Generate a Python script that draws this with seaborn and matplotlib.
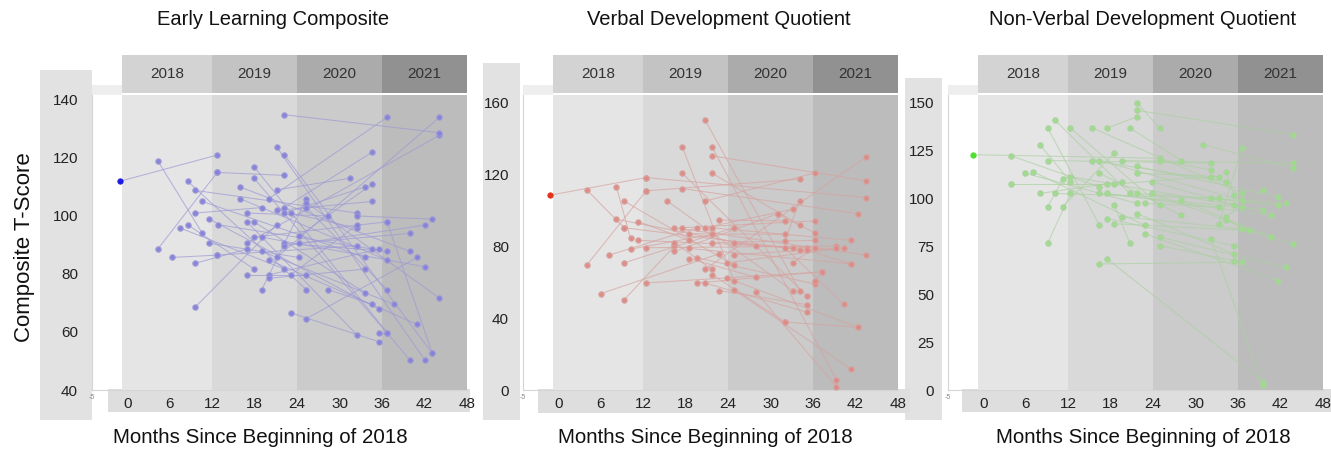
import matplotlib.pyplot as plt
import matplotlib.transforms as mtransforms
import pandas as pd
import seaborn as sns
from matplotlib.patches import Rectangle

# panel text
titles = ["Early Learning Composite", "Verbal Development Quotient",
          "Non-Verbal Development Quotient"]
x_label = "Months Since Beginning of 2018"
y_label = "Composite T-Score"
years = ["2018", "2019", "2020", "2021"]
year_starts = [-0.7, 12, 24, 36]
year_ends = [12, 24, 36, 48]
x_ticks = [0, 6, 12, 18, 24, 30, 36, 42, 48]

# longitudinal pairs: (month_1, score_1, month_2, score_2)
elc_segments = [
    (-1.0, 112, 12.7, 121), (4.3, 119, 10.6, 94), (4.3, 88.6, 12.7, 115),
    (6.3, 85.7, 12.7, 86.5), (9.6, 68.6, 21.1, 97), (7.5, 95.8, 22.2, 81.7),
    (8.5, 97, 17.9, 81.7), (8.5, 112, 25.3, 74.6), (9.6, 108.8, 32.5, 101),
    (9.6, 101, 19.0, 102.9), (9.6, 83.7, 16.9, 88.6), (10.6, 105, 33.6, 85.7),
    (11.6, 98.9, 35.6, 67.8), (11.6, 90.6, 24.2, 85.7), (12.7, 115, 22.2, 114),
    (12.8, 97, 34.6, 88.6), (12.7, 86.5, 32.5, 89.7), (15.9, 110, 39.9, 87.8),
    (15.9, 106, 36.7, 84.8), (16.9, 101, 28.4, 100), (16.9, 98, 32.5, 58.9),
    (16.9, 90.6, 44.1, 127.8), (16.9, 79.7, 25.3, 79.7), (17.9, 117, 36.7, 59.8),
    (17.9, 113, 39.9, 50.5), (17.9, 98, 33.6, 73.5), (17.9, 92.7, 36.7, 98),
    (19.0, 92.7, 42.0, 82.5), (19.0, 87.8, 37.7, 69.5), (19.0, 74.6, 25.3, 106),
    (20.0, 106, 36.7, 134), (20.0, 84.8, 41.0, 62.6), (20.0, 79.7, 35.6, 88.6),
    (20.0, 78.5, 33.6, 81.7), (21.1, 123.8, 42.0, 50.5), (21.1, 109, 31.5, 113),
    (21.1, 101.9, 34.6, 105), (21.1, 85.7, 44.1, 134), (22.2, 134.9, 44.1, 128.7),
    (22.2, 121, 43.1, 52.6), (22.2, 102.9, 34.6, 122), (22.2, 101, 33.6, 110),
    (22.2, 90.6, 36.7, 87.8), (22.2, 89.7, 42.0, 96.8), (23.1, 101, 32.5, 95.8),
    (23.1, 79.7, 32.5, 97), (23.1, 66.6, 35.6, 56.6), (24.2, 93, 34.6, 111),
    (24.2, 90.6, 39.9, 94), (25.3, 104.6, 44.1, 71.7), (25.3, 102.9, 36.7, 74.6),
    (25.3, 64.6, 41.0, 85.7), (28.4, 74.6, 34.6, 69.5), (32.5, 100, 43.1, 98.9),
    (36.7, 59.8, 35.6, 59.8), (36.7, 98, 43.1, 52.6),
]

vdq_segments = [
    (-1.2, 108.3, 12.4, 118.1), (4.0, 111.3, 9.3, 90.2), (4.0, 69.4, 12.4, 110.7),
    (6.0, 53.6, 22.7, 75.7), (7.2, 75, 19.6, 90.2), (8.2, 113, 10.2, 84.3),
    (8.2, 94.9, 27.9, 80), (9.3, 105, 24.8, 69.4), (9.3, 90.2, 34.1, 78.1),
    (9.3, 70.7, 24.8, 90.2), (9.3, 50.2, 16.4, 80), (10.2, 78.3, 21.7, 86.5),
    (11.3, 93.6, 18.5, 83.2), (11.3, 83.2, 35.2, 79.1), (12.4, 118.1, 43.5, 107),
    (12.4, 110.7, 34.1, 117.2), (12.4, 79.1, 39.3, 80), (12.4, 59.5, 37.3, 65.7),
    (15.4, 105, 33.1, 55.3), (16.4, 90.2, 43.5, 75), (16.4, 77, 31.0, 98),
    (17.5, 90.2, 36.2, 94), (17.5, 135.3, 24.8, 60.8), (17.5, 120.6, 35.2, 52),
    (17.5, 112, 42.4, 98), (18.5, 86.9, 32.0, 86.5), (18.5, 78.7, 41.4, 70.1),
    (18.5, 73.1, 27.9, 62.7), (19.6, 73.5, 36.2, 59), (19.6, 59.5, 37.3, 65.7),
    (20.7, 150.3, 34.1, 55.3), (20.7, 105, 36.2, 120.6), (20.7, 90.2, 33.1, 100.5),
    (20.7, 67, 43.5, 129.7), (20.7, 59.5, 35.2, 43.2), (21.7, 135.3, 39.3, 5.6),
    (21.7, 130.2, 43.5, 116.3), (21.7, 120.6, 34.1, 91.7), (21.7, 90.2, 41.4, 83.2),
    (21.7, 81.9, 36.2, 83.2), (21.7, 64.2, 32.0, 37.8), (22.7, 94.5, 32.0, 94),
    (22.7, 55.3, 35.2, 47.4), (23.8, 70.7, 40.3, 79.1), (23.8, 62.3, 42.4, 34.8),
    (24.8, 81.5, 33.1, 78.7), (24.8, 75.3, 39.3, 78.7), (24.8, 55.8, 41.4, 11.5),
    (27.9, 54.5, 39.3, 1.9), (31.0, 98, 36.2, 87.4), (32.0, 79.1, 40.3, 47.8),
    (32.0, 82.8, 34.1, 105), (32.0, 37.8, 42.4, 34.8), (33.1, 70.7, 36.2, 79.1),
    (35.2, 77.6, 41.4, 70.1), (36.2, 60.8, 37.3, 65.7), (16.4, 82, 21.7, 67),
]

nvdq_segments = [
    (-1.4, 122.8, 24.9, 121), (3.9, 122.3, 16.4, 106.1), (3.9, 107.5, 17.5, 107.5),
    (5.9, 113.2, 21.7, 97.4), (7.0, 114, 22.8, 86), (8.0, 128, 12.3, 108.8),
    (8.0, 102.6, 19.6, 108.8), (9.1, 136.8, 16.4, 86), (9.1, 119.8, 32.2, 118.4),
    (9.1, 95.6, 11.2, 110), (9.1, 76.7, 12.3, 102.6), (10.1, 140.9, 20.7, 102.6),
    (10.1, 102.6, 33.3, 100), (11.2, 95.6, 18.5, 123.7), (12.3, 136.8, 24.9, 96.5),
    (12.3, 111.4, 35.4, 96.5), (15.4, 136.8, 36.5, 102.6), (15.4, 119.8, 34.3, 108.8),
    (16.4, 119.8, 36.5, 99.1), (16.4, 113.2, 28.0, 91.2), (16.4, 102.6, 39.5, 94.2),
    (16.4, 65.8, 36.5, 66.7), (17.5, 136.8, 21.7, 142.6), (17.5, 102.6, 40.6, 91.2),
    (17.5, 89.5, 35.4, 75.4), (17.5, 68.4, 39.5, 4.4), (18.5, 107.5, 32.2, 111.4),
    (18.5, 96.5, 20.7, 76.7), (18.5, 86.8, 37.5, 83.3), (19.6, 119.8, 43.8, 118.4),
    (19.6, 90.4, 36.5, 84.2), (20.7, 136.8, 28.0, 119.8), (21.7, 150, 24.9, 136.8),
    (21.7, 146, 43.8, 133.3), (21.7, 116.7, 41.7, 100.9), (21.7, 113.2, 33.3, 111.4),
    (21.7, 102.6, 42.7, 97.4), (21.7, 92.1, 35.4, 71), (22.8, 97.4, 33.3, 95.6),
    (22.8, 81.6, 41.7, 57), (23.8, 108.8, 36.5, 95.6), (23.8, 102.6, 43.8, 76),
    (24.9, 119.8, 32.2, 114.9), (24.9, 79.8, 42.7, 64), (24.9, 75.4, 35.4, 67.5),
    (28.0, 99.1, 40.6, 79.8), (31.1, 128, 43.8, 115.8), (32.2, 100, 41.7, 96.5),
    (32.2, 78.6, 39.5, 2.6), (33.3, 86.8, 36.5, 126.3), (34.3, 114, 35.4, 101.8),
    (34.3, 90.4, 39.5, 104.4), (34.3, 88.6, 37.5, 83.3), (36.5, 84.2, 40.6, 79.8),
]

segments = [elc_segments, vdq_segments, nvdq_segments]
y_limits = [(40, 141.7), (0, 164), (0, 154)]
y_ticks = [[40, 60, 80, 100, 120, 140], [0, 40, 80, 120, 160],
           [0, 25, 50, 75, 100, 125, 150]]
y_minor = [[50, 70, 90, 110, 130], [20, 60, 100, 140], []]
point_colors = ["#8580dc", "#de8a84", "#9ddc8a"]
line_colors = ["#9d9ad4", "#d6a3a0", "#acd0a2"]
first_colors = ["#1c1ce0", "#e2321c", "#4fe02c"]
band_colors = ["#e5e5e5", "#d9d9d9", "#cbcbcb", "#bcbcbc"]
head_colors = ["#d3d3d3", "#c3c3c3", "#ababab", "#919191"]

sns.set_style("white")
plt.rcParams["font.family"] = ["Liberation Sans", "DejaVu Sans"]

W, H = 1331, 451
fig = plt.figure(figsize=(W / 100, H / 100), dpi=100)


def px_rect(x0, y0, x1, y1, color):
    fig.add_artist(Rectangle((x0 / W, 1 - y1 / H), (x1 - x0) / W, (y1 - y0) / H,
                             transform=fig.transFigure, color=color, zorder=0, lw=0))


# grey label boxes behind tick labels
px_rect(40, 70, 92, 420, "#e2e2e2")
px_rect(483, 63, 520, 420, "#e2e2e2")
px_rect(905, 78, 942, 420, "#e2e2e2")
px_rect(108, 389, 470, 412, "#dedede")
px_rect(538, 389, 910, 413, "#dedede")
px_rect(962, 389, 1331, 412, "#dedede")

lefts = [92, 523, 948]
title_pos = [0.483, 0.523, 0.52]
xlabel_pos = [0.45, 0.485, 0.52]
for i, ax_left in enumerate(lefts):
    ax = fig.add_axes([ax_left / W, 1 - 390 / H, 375 / W, 295 / H])
    ax.set_facecolor("none")

    rows = []
    for k, (xa, ya, xb, yb) in enumerate(segments[i]):
        rows.append({"subject": k, "month": xa, "score": ya})
        rows.append({"subject": k, "month": xb, "score": yb})
    df = pd.DataFrame(rows)

    for j in range(4):
        ax.axvspan(year_starts[j], year_ends[j], color=band_colors[j], lw=0, zorder=0)

    sns.lineplot(data=df, x="month", y="score", units="subject", estimator=None,
                 sort=False, color=line_colors[i], lw=0.75, alpha=0.7,
                 legend=False, ax=ax, zorder=2)
    sns.scatterplot(data=df.iloc[1:], x="month", y="score", color=point_colors[i],
                    s=15, edgecolor=line_colors[i], linewidth=0.8, alpha=0.95,
                    legend=False, ax=ax, zorder=3)
    sns.scatterplot(data=df.iloc[:1], x="month", y="score", color=first_colors[i],
                    s=15, edgecolor=first_colors[i], linewidth=0.6,
                    legend=False, ax=ax, zorder=4)

    ax.set_xlim(-5, 48)
    ax.set_ylim(*y_limits[i])
    ax.set_xticks(x_ticks)
    ax.set_yticks(y_ticks[i])
    ax.set_yticks(y_minor[i], minor=True)
    ax.tick_params(axis="both", which="major", length=0, labelsize=11,
                   labelcolor="#222222")
    ax.tick_params(axis="y", which="major", pad=10)
    ax.tick_params(axis="x", which="major", pad=5)
    ax.tick_params(axis="y", which="minor", length=3, color="#bbbbbb", width=0.6)
    for side in ["top", "right"]:
        ax.spines[side].set_visible(False)
    for side in ["left", "bottom"]:
        ax.spines[side].set_color("#d5d5d5")
        ax.spines[side].set_linewidth(0.8)
    ax.set_xlabel("")
    ax.set_ylabel("")

    # year header boxes above the plot
    trans = mtransforms.blended_transform_factory(ax.transData, ax.transAxes)
    ax.add_patch(Rectangle((-5, 1.0), year_starts[0] + 5, 0.035, transform=trans,
                           color="#eeeeee", lw=0, clip_on=False, zorder=0))
    for j in range(4):
        ax.add_patch(Rectangle((year_starts[j], 1.007),
                               year_ends[j] - year_starts[j], 0.13,
                               transform=trans, color=head_colors[j], lw=0,
                               clip_on=False))
        ax.text((year_starts[j] + year_ends[j]) / 2, 1.072, years[j],
                transform=trans, ha="center", va="center", fontsize=11,
                color="#333333")
    ax.text(-5, -0.012, "-5", transform=trans, ha="center", va="top",
            fontsize=5, color="#888888")

    ax.text(title_pos[i], 1.255, titles[i], transform=ax.transAxes, ha="center",
            va="center", fontsize=14.5, color="#111111")
    ax.text(xlabel_pos[i], -0.16, x_label, transform=ax.transAxes, ha="center",
            va="center", fontsize=14.8, color="#111111")

fig.text(25 / W, 1 - 247 / H, y_label, rotation=90, ha="center", va="center",
         fontsize=16, color="#111111")

fig.savefig("out.png", dpi=100)
